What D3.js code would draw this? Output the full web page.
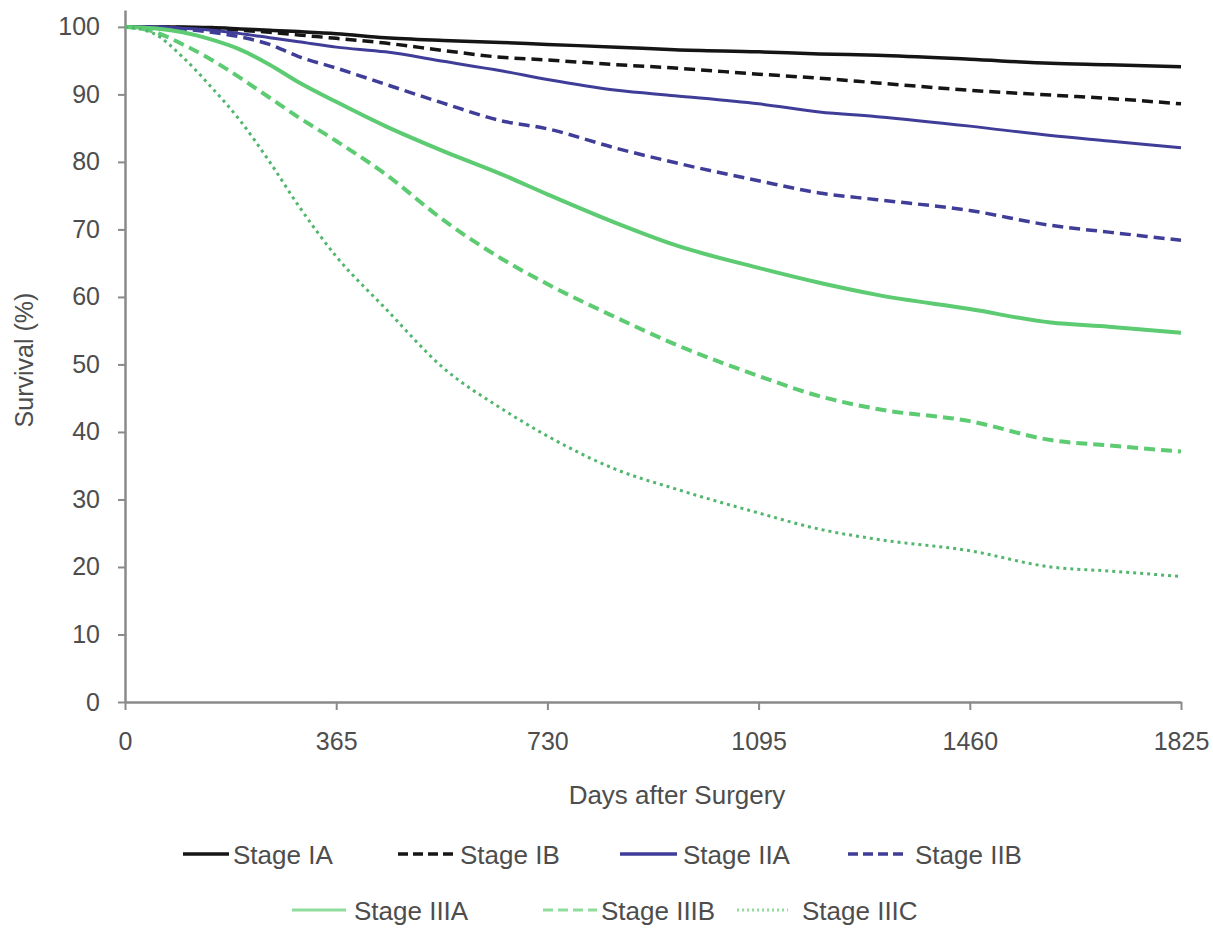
<!DOCTYPE html>
<html>
<head>
<meta charset="utf-8">
<script src="https://cdn.jsdelivr.net/npm/d3@7"></script>
<style>
  body { margin: 0; background: #fff; }
  text { font-family: "Liberation Sans", Arial, sans-serif; fill: #4d4d4d; }
</style>
</head>
<body>
<div id="chart"></div>
<script>
// days after surgery sampled along the curves
const days = [0, 50, 100, 150, 200, 250, 300, 365, 450, 550, 650, 730, 850, 950, 1095, 1200, 1300, 1460, 1600, 1700, 1825];

const stageIA   = [100, 100, 100, 99.9, 99.7, 99.5, 99.3, 99.0, 98.4, 98.0, 97.7, 97.4, 97.0, 96.6, 96.3, 96.0, 95.8, 95.2, 94.6, 94.4, 94.1];
const stageIB   = [100, 100, 99.9, 99.7, 99.5, 99.2, 98.8, 98.3, 97.6, 96.5, 95.5, 95.1, 94.4, 93.9, 93.0, 92.4, 91.7, 90.6, 89.9, 89.4, 88.6];
const stageIIA  = [100, 100, 99.8, 99.5, 99.0, 98.4, 97.8, 97.0, 96.3, 94.9, 93.5, 92.2, 90.6, 89.8, 88.6, 87.4, 86.7, 85.3, 83.9, 83.1, 82.1];
const stageIIB  = [100, 100, 99.7, 99.2, 98.5, 97.4, 95.6, 93.9, 91.5, 88.7, 86.1, 84.9, 82.0, 79.9, 77.2, 75.4, 74.4, 72.8, 70.6, 69.6, 68.4];
const stageIIIA = [100, 99.8, 99.2, 98.1, 96.6, 94.4, 91.8, 88.9, 85.3, 81.6, 78.2, 75.2, 70.9, 67.7, 64.3, 62.1, 60.3, 58.2, 56.2, 55.6, 54.7];
const stageIIIB = [100, 99.3, 97.4, 95.1, 92.4, 89.5, 86.6, 83.1, 78.2, 71.4, 65.7, 61.9, 56.9, 53.0, 48.3, 45.3, 43.4, 41.6, 38.8, 38.0, 37.1];
const stageIIIC = [100, 99.0, 95.5, 91.0, 86.0, 80.0, 73.5, 66.0, 58.3, 49.5, 43.5, 39.4, 34.4, 31.6, 28.0, 25.6, 24.1, 22.4, 20.0, 19.4, 18.6];

const stageNames = ["Stage IA", "Stage IB", "Stage IIA", "Stage IIB", "Stage IIIA", "Stage IIIB", "Stage IIIC"];
const xTicks = [0, 365, 730, 1095, 1460, 1825];
const yTicks = [0, 10, 20, 30, 40, 50, 60, 70, 80, 90, 100];

const seriesValues = [stageIA, stageIB, stageIIA, stageIIB, stageIIIA, stageIIIB, stageIIIC];
const styles = [
    { color: "#151515", width: 3.5, dash: null },
    { color: "#151515", width: 3.5, dash: "11,6" },
    { color: "#3f3d98", width: 3, dash: null },
    { color: "#3f3d98", width: 3.5, dash: "11,6" },
    { color: "#5ccb72", width: 4, dash: null },
    { color: "#5ccb72", width: 4, dash: "11,6" },
    { color: "#52b66e", width: 3, dash: "3,4" }
];

const width = 1213, height = 929;
const margin = { top: 10, right: 32, bottom: 227, left: 125 };

const svg = d3.select("#chart").append("svg")
    .attr("width", width)
    .attr("height", height);

const x = d3.scaleLinear()
    .domain([0, 1825])
    .range([margin.left, width - margin.right]);

const y = d3.scaleLinear()
    .domain([0, 102.5])
    .range([height - margin.bottom, margin.top]);

// axes
const axisColor = "#8a8a8a";

const xAxis = svg.append("g")
    .attr("transform", "translate(0," + y(0) + ")")
    .call(d3.axisBottom(x).tickValues(xTicks).tickFormat(d3.format("d"))
        .tickSize(8).tickPadding(22).tickSizeOuter(0));

const yAxis = svg.append("g")
    .attr("transform", "translate(" + x(0) + ",0)")
    .call(d3.axisLeft(y).tickValues(yTicks).tickFormat(d3.format("d"))
        .tickSize(7).tickPadding(18).tickSizeOuter(0));

[xAxis, yAxis].forEach(g => {
    g.select(".domain").attr("stroke", axisColor).attr("stroke-width", 2.5);
    g.selectAll(".tick line").attr("stroke", axisColor).attr("stroke-width", 2);
    g.selectAll(".tick text")
        .style("font-size", "25px")
        .style("font-family", "'Liberation Sans', Arial, sans-serif")
        .attr("fill", "#4d4d4d");
});

// axis titles
svg.append("text")
    .attr("x", 677)
    .attr("y", 804)
    .attr("text-anchor", "middle")
    .style("font-size", "26px")
    .text("Days after Surgery");

svg.append("text")
    .attr("transform", "translate(33," + 360 + ") rotate(-90)")
    .attr("text-anchor", "middle")
    .style("font-size", "25px")
    .text("Survival (%)");

// survival curves
const line = d3.line()
    .x(d => x(d[0]))
    .y(d => y(d[1]))
    .curve(d3.curveMonotoneX);

seriesValues.forEach((vals, i) => {
    const pts = days.map((d, j) => [d, vals[j]]);
    svg.append("path")
        .datum(pts)
        .attr("class", "curve")
        .attr("fill", "none")
        .attr("stroke", styles[i].color)
        .attr("stroke-width", styles[i].width)
        .attr("stroke-dasharray", styles[i].dash)
        .attr("d", line);
});

// legend (two centred rows)
const legendRows = [
    { y: 854, items: [0, 1, 2, 3], starts: [183, 398, 620, 848], lens: [46, 56, 57, 57], gaps: [4, 6, 6, 10] },
    { y: 910, items: [4, 5, 6], starts: [292, 543, 737], lens: [54, 54, 51], gaps: [8, 4, 14] }
];

legendRows.forEach(row => {
    row.items.forEach((idx, k) => {
        const lx = row.starts[k];
        const s = styles[idx];
        svg.append("line")
            .attr("x1", lx).attr("x2", lx + row.lens[k])
            .attr("y1", row.y).attr("y2", row.y)
            .attr("stroke", idx >= 4 ? "#8fdc9c" : s.color)
            .attr("stroke-width", idx >= 4 ? 3 : 3.5)
            .attr("stroke-dasharray", idx === 6 ? "2,3" : (s.dash ? "10,5" : null));
        svg.append("text")
            .attr("x", lx + row.lens[k] + row.gaps[k])
            .attr("y", row.y + 10)
            .style("font-size", "26px")
            .text(stageNames[idx]);
    });
});
</script>
</body>
</html>
